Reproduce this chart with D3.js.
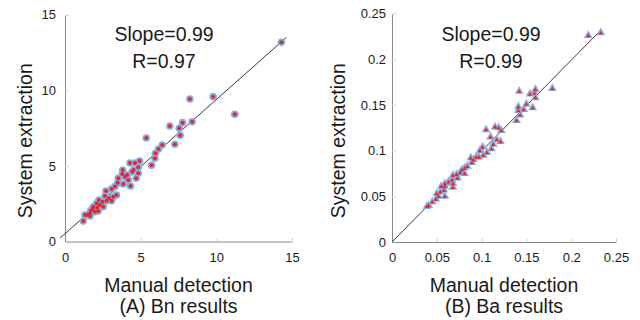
<!DOCTYPE html>
<html><head><meta charset="utf-8">
<script src="https://cdn.jsdelivr.net/npm/d3@7/dist/d3.min.js"></script>
<style>
body{margin:0;background:#fff;}
text{font-family:"Liberation Sans",Arial,sans-serif;fill:#1a1a1a;}
</style></head>
<body><svg id="c" width="640" height="320"></svg>
<script>
// ---- data ----
const bnManual = [14.30,8.25,9.79,11.22,7.77,8.40,7.55,7.61,6.93,7.26,5.37,6.42,6.18,5.98,5.94,5.72,
  4.93,4.62,4.29,4.84,4.53,4.84,4.71,4.33,4.44,3.81,3.78,4.11,3.96,4.18,3.52,3.48,3.85,3.30,3.08,3.41,3.19,
  2.71,2.64,2.90,3.08,2.75,2.49,2.24,2.09,2.31,2.53,2.13,1.83,1.98,2.20,1.70,1.65,1.43,1.32,1.65,1.21,1.87];
const bnSystem = [13.17,9.42,9.58,8.41,7.86,7.92,7.49,7.02,7.64,6.43,6.85,6.38,6.12,5.83,5.50,5.04,
  5.32,5.19,5.19,4.91,4.73,4.51,4.18,3.67,4.62,4.73,4.46,4.40,4.29,4.07,4.18,3.89,3.80,3.63,3.47,3.08,2.96,
  3.34,3.01,2.86,2.70,2.70,2.63,2.74,2.52,2.41,2.30,2.24,2.15,1.97,2.02,2.04,1.86,1.75,1.75,1.69,1.36,2.30];
const baManual = [0.233,0.219,0.179,0.160,0.159,0.154,0.160,0.150,0.157,0.142,0.141,0.141,0.147,0.143,0.139,
  0.105,0.115,0.119,0.122,0.110,0.117,0.121,0.113,0.111,0.101,0.106,0.102,0.097,0.094,0.088,0.089,0.084,
  0.081,0.078,0.076,0.081,0.072,0.068,0.073,0.067,0.068,0.063,0.059,0.068,0.059,0.055,0.058,0.054,0.059,
  0.050,0.052,0.049,0.045,0.039,0.041,0.098,0.091];
const baSystem = [0.229,0.226,0.168,0.167,0.163,0.162,0.158,0.151,0.147,0.165,0.148,0.144,0.145,0.139,0.133,
  0.123,0.126,0.125,0.122,0.115,0.112,0.110,0.107,0.102,0.104,0.098,0.095,0.093,0.093,0.092,0.087,0.083,
  0.081,0.079,0.076,0.075,0.074,0.073,0.070,0.068,0.064,0.066,0.064,0.060,0.061,0.061,0.057,0.055,0.050,
  0.053,0.050,0.047,0.044,0.039,0.040,0.100,0.090];
const bnFitX = [-0.33,14.63], bnFitY = [0.22,13.5];
const baFitX = [0,0.234], baFitY = [0,0.2327];
const bnTicks = [0,5,10,15];
const baTicks = [0,0.05,0.1,0.15,0.2,0.25];
const bnStats = ["Slope=0.99","R=0.97"];
const baStats = ["Slope=0.99","R=0.99"];
const xTitle = "Manual detection", yTitle = "System extraction";
const captions = ["(A) Bn results","(B) Ba results"];

const svg = d3.select("#c");
const BLUE = "#86afe0", RED = "#e5262d";

function panel(o){
  const g = svg.append("g");
  const x = d3.scaleLinear().domain(o.dom).range(o.xr);
  const y = d3.scaleLinear().domain(o.dom).range(o.yr);
  const ax = g.append("g").attr("transform",`translate(0,${o.yr[0]})`)
    .call(d3.axisBottom(x).tickValues(o.ticks).tickFormat(o.fmt).tickSizeInner(-4).tickSizeOuter(0).tickPadding(11));
  const ay = g.append("g").attr("transform",`translate(${o.xr[0]},0)`)
    .call(d3.axisLeft(y).tickValues(o.ticks).tickFormat(o.fmt).tickSizeInner(-4).tickSizeOuter(0).tickPadding(o.ypad));
  [ax,ay].forEach(a=>{
    a.select(".domain").attr("stroke","#8a8a8a");
    a.selectAll(".tick line").attr("stroke","#d4d4d4");
    a.selectAll(".tick text").style("font-size","13px").attr("fill","#222");
  });
  ax.selectAll(".tick").filter(d=>d===0).select("line").remove();
  ay.selectAll(".tick").filter(d=>d===0).select("line").remove();
  // fit line
  g.append("line").attr("x1",x(o.fx[0])).attr("y1",y(o.fy[0])).attr("x2",x(o.fx[1])).attr("y2",y(o.fy[1]))
    .attr("stroke","#222").attr("stroke-width",0.9);
  // points
  const pts = o.mx.map((v,i)=>[v,o.my[i]]);
  if(o.tri){
    const big = d3.symbol(d3.symbolTriangle,34)(), small = d3.symbol(d3.symbolTriangle,8)();
    g.selectAll(".pb").data(pts).join("path").attr("d",big).attr("fill",BLUE)
      .attr("transform",d=>`translate(${x(d[0])},${y(d[1])})`);
    g.selectAll(".pr").data(pts).join("path").attr("class","pr").attr("d",small).attr("fill",RED)
      .attr("transform",d=>`translate(${x(d[0])},${y(d[1])+0.5})`);
  } else {
    g.selectAll(".cb").data(pts).join("circle").attr("cx",d=>x(d[0])).attr("cy",d=>y(d[1])).attr("r",3.8).attr("fill",BLUE);
    g.selectAll(".cr").data(pts).join("circle").attr("class","cr").attr("cx",d=>x(d[0])).attr("cy",d=>y(d[1])).attr("r",2.0).attr("fill",RED);
  }
  // annotations
  g.append("text").attr("x",o.sx).attr("y",41).attr("text-anchor","middle").style("font-size","19.5px").text(o.stats[0]);
  g.append("text").attr("x",o.sx).attr("y",68.3).attr("text-anchor","middle").style("font-size","19.5px").text(o.stats[1]);
  g.append("text").attr("x",o.tx).attr("y",292.3).attr("text-anchor","middle").style("font-size","19.5px").text(xTitle);
  g.append("text").attr("x",o.tx).attr("y",313).attr("text-anchor","middle").style("font-size","19.5px").text(o.cap);
  g.append("text").attr("transform",`translate(${o.yx},140.7) rotate(-90)`).attr("text-anchor","middle").style("font-size","19.5px").text(yTitle);
}

panel({dom:[0,15],xr:[65,292],yr:[241.5,14.7],ticks:bnTicks,fmt:d3.format("d"),ypad:9,
  fx:bnFitX,fy:bnFitY,mx:bnManual,my:bnSystem,tri:false,stats:bnStats,sx:164,tx:178.5,cap:captions[0],yx:31.5});
panel({dom:[0,0.25],xr:[392,616],yr:[242,13.5],ticks:baTicks,fmt:d=>d===0?"0":String(d),ypad:6,
  fx:baFitX,fy:baFitY,mx:baManual,my:baSystem,tri:true,stats:baStats,sx:491,tx:504,cap:captions[1],yx:345});
</script></body></html>
